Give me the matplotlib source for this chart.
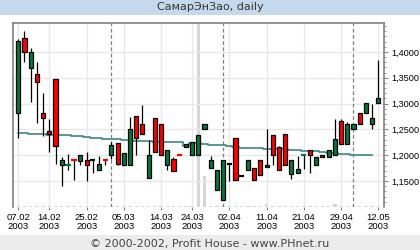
import matplotlib
matplotlib.use("Agg")
import matplotlib.pyplot as plt
import numpy as np
from matplotlib.patches import Rectangle

# daily OHLC, one entry per trading day
opens = [1.2827, 1.4263, 1.3687, 1.3571, 1.2821, 1.2475, 1.3475, 1.1821, 1.1821, 1.1917,
         1.1898, 1.1917, 1.1904, 1.1725, 1.1917, 1.2013, 1.2244, 1.1821, 1.1821, 1.2763,
         1.2610, 1.1552, 1.2725, 1.2610, 1.1821, 1.1937, 1.2013, 1.2167, 1.2013, 1.2013,
         1.2513, 1.1763, 1.1321, 1.1129, 1.1833, 1.2340, 1.1602, 1.1725, 1.1763, 1.1917,
         1.1783, 1.2398, 1.2167, 1.2417, 1.1629, 1.1667, 1.2013, 1.2110, 1.1821, 1.2013,
         1.1975, 1.2013, 1.2667, 1.2225, 1.2513, 1.2821, 1.2821, 1.2610, 1.3013]
highs = [1.4250, 1.4404, 1.4071, 1.3802, 1.3212, 1.2706, 1.3475, 1.1962, 1.2033, 1.1917,
         1.2013, 1.2058, 1.1904, 1.1981, 1.1917, 1.2250, 1.2244, 1.2052, 1.2744, 1.2763,
         1.2975, 1.2302, 1.2725, 1.2610, 1.2110, 1.1962, 1.2013, 1.2225, 1.2263, 1.2398,
         1.2610, 1.1994, 1.1725, 1.1917, 1.1833, 1.2340, 1.1602, 1.1917, 1.1763, 1.1917,
         1.2500, 1.2398, 1.2186, 1.2417, 1.1917, 1.1994, 1.2013, 1.2110, 1.1975, 1.2013,
         1.2110, 1.2706, 1.2706, 1.2648, 1.2610, 1.2821, 1.3013, 1.2994, 1.3840]
lows = [1.2327, 1.3813, 1.3025, 1.2615, 1.2371, 1.2063, 1.1827, 1.1410, 1.1717, 1.1519,
        1.1813, 1.1506, 1.1654, 1.1725, 1.1813, 1.1937, 1.1813, 1.1821, 1.1821, 1.2013,
        1.2417, 1.1552, 1.2071, 1.2013, 1.1725, 1.1687, 1.2013, 1.2167, 1.2013, 1.2013,
        1.2513, 1.1763, 1.1321, 1.1129, 1.1506, 1.1513, 1.1602, 1.1725, 1.1513, 1.1610,
        1.1783, 1.1821, 1.1725, 1.1821, 1.1533, 1.1667, 1.1744, 1.1667, 1.1821, 1.1975,
        1.1975, 1.2013, 1.2225, 1.2225, 1.2513, 1.2610, 1.2821, 1.2513, 1.3013]
closes = [1.4212, 1.3994, 1.3994, 1.3417, 1.2717, 1.2410, 1.2179, 1.1917, 1.1821, 1.1917,
          1.2013, 1.1821, 1.1904, 1.1840, 1.1917, 1.2206, 1.1840, 1.2052, 1.2513, 1.2327,
          1.2417, 1.2013, 1.2071, 1.2013, 1.2110, 1.1687, 1.2013, 1.2225, 1.2263, 1.2398,
          1.2610, 1.1917, 1.1725, 1.1917, 1.1833, 1.1513, 1.1602, 1.1917, 1.1513, 1.1610,
          1.1821, 1.2013, 1.1725, 1.1821, 1.1917, 1.1744, 1.2013, 1.2013, 1.1975, 1.1975,
          1.2110, 1.2321, 1.2225, 1.2610, 1.2610, 1.2610, 1.3013, 1.2725, 1.3110]
# colour of the flat (open == close) days
doji_colors = {8: "#007a3d", 9: "#ff0000", 12: "black", 14: "#ff0000", 26: "#ff0000",
               34: "black", 36: "black", 46: "#007a3d"}

ma = [1.2437, 1.2437, 1.2417, 1.2417, 1.2405, 1.2398, 1.2398, 1.2390, 1.2385, 1.2375,
      1.2367, 1.2360, 1.2340, 1.2340, 1.2321, 1.2308, 1.2308, 1.2300, 1.2290, 1.2280,
      1.2277, 1.2275, 1.2265, 1.2265, 1.2263, 1.2260, 1.2255, 1.2170, 1.2244, 1.2230,
      1.2215, 1.2206, 1.2190, 1.2190, 1.2180, 1.2167, 1.2148, 1.2148, 1.2140, 1.2148,
      1.2129, 1.2129, 1.2115, 1.2115, 1.2102, 1.2102, 1.2090, 1.2085, 1.2075, 1.2071,
      1.2052, 1.2052, 1.2033, 1.2033, 1.2013, 1.2013, 1.2013, 1.2000]

volumes = [0.006] * 59
volumes[29] = 1.0
volumes[30] = 0.17
volumes[40] = 0.015
volumes[51] = 0.015

tick_idx = [0, 5, 11, 17, 23, 28, 34, 40, 46, 52, 58]
tick_labels = ["07.02\n2003", "14.02\n2003", "25.02\n2003", "05.03\n2003", "14.03\n2003",
               "24.03\n2003", "02.04\n2003", "11.04\n2003", "21.04\n2003", "29.04\n2003",
               "12.05\n2003"]
month_starts = [15, 33, 54]

GREEN = "#007a3d"
RED = "#ff0000"
tick_font = ["Liberation Sans", "DejaVu Sans"]

fig = plt.figure(figsize=(4.2, 2.5), dpi=100)
fig.patches.append(Rectangle((0, 1 - 15 / 250), 1, 15 / 250, transform=fig.transFigure,
                             facecolor="#c6d9ec", edgecolor="none", zorder=0))
fig.patches.append(Rectangle((0, 0), 1, 15 / 250, transform=fig.transFigure,
                             facecolor="#ececec", edgecolor="none", zorder=0))
fig.text(0.5, 1 - 7.5 / 250, "СамарЭнЗао, daily", ha="center", va="center",
         fontsize=8, color="#333333", family="DejaVu Sans")
fig.text(0.5, 6.5 / 250, "© 2000-2002, Profit House - www.PHnet.ru", ha="center",
         va="center", fontsize=8, color="#444444", family="DejaVu Sans")

ax = fig.add_axes([13 / 420, 43 / 250, 371 / 420, 184 / 250])
n = len(opens)
x = np.arange(n)

# volume bars behind the price
axv = ax.twinx()
axv.bar(x, volumes, width=0.55, color="#d6d6d6", zorder=0)
axv.set_ylim(0, 1)
axv.set_yticks([])
for s in axv.spines.values():
    s.set_visible(False)
ax.set_zorder(axv.get_zorder() + 1)
ax.patch.set_visible(False)

ax.plot(np.arange(len(ma)), ma, drawstyle="steps-mid", color="#3d8580", lw=1.2, zorder=2)

w = 0.66
for i in range(n):
    o, h, lo, c = opens[i], highs[i], lows[i], closes[i]
    if h > lo:
        ax.vlines(i, lo, h, color="black", lw=0.9, zorder=3)
    if o == c:
        ax.hlines(o, i - w / 2 - 0.1, i + w / 2 + 0.1, color=doji_colors.get(i, "black"),
                  lw=1.6, zorder=4)
    else:
        ax.add_patch(Rectangle((i - w / 2, min(o, c)), w, abs(c - o),
                               facecolor=GREEN if c > o else RED, edgecolor="black",
                               lw=0.9, zorder=4))

for m in month_starts:
    ax.axvline(m, color="#808080", lw=0.9, ls=(0, (3, 2)), zorder=1)

ax.set_xlim(-0.85, 58.92)
ax.set_ylim(1.10, 1.4558)
ax.set_xticks(tick_idx)
ax.set_xticklabels(tick_labels, family=tick_font, fontsize=6.8, linespacing=1.1)
yt = [1.15, 1.20, 1.25, 1.30, 1.35, 1.40]
ax.set_yticks(yt)
ax.set_yticklabels([f"{v:.4f}".replace(".", ",") for v in yt], family=tick_font,
                   fontsize=6.6)
ax.set_yticks(np.arange(1.11, 1.451, 0.01), minor=True)
ax.yaxis.tick_right()
ax.tick_params(axis="y", which="major", length=3, color="#808080", pad=2)
ax.tick_params(axis="y", which="minor", length=1.5, color="#808080")
ax.tick_params(axis="x", length=2, color="#808080", pad=2)
ax.grid(True, color="#e8e8e8", lw=1, zorder=0)
ax.set_axisbelow(True)
for side in ["left", "top", "right"]:
    ax.spines[side].set_color("#808080")
    ax.spines[side].set_linewidth(1.2)
ax.spines["bottom"].set_visible(False)

fig.savefig("out.png", dpi=100)
